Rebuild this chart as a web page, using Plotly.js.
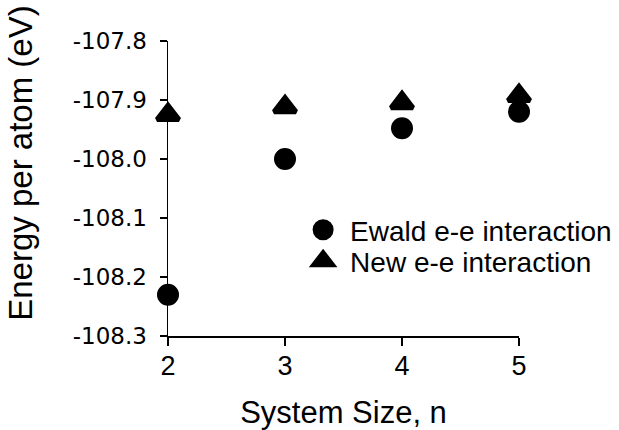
<!DOCTYPE html>
<html>
<head>
<meta charset="utf-8">
<script src="https://cdn.plot.ly/plotly-3.0.1.min.js"></script>
<style>
  html, body { margin: 0; padding: 0; background: #fff; }
  #chart { width: 619px; height: 430px; }
</style>
</head>
<body>
<div id="chart"></div>
<script>
// System size n and energy per atom (eV) for the two e-e interaction schemes
const systemSize = [2, 3, 4, 5];
const ewaldEnergy = [-108.23, -108.00, -107.948, -107.92];
const newEnergy = [-107.925, -107.912, -107.905, -107.893];

const seriesNames = ['Ewald e-e interaction', 'New e-e interaction'];
const xTicks = [2, 3, 4, 5];
const yTicks = [-108.3, -108.2, -108.1, -108.0, -107.9, -107.8];

const FONT = 'Liberation Sans, Arial, Helvetica, sans-serif';

const traces = [
  {
    x: systemSize, y: ewaldEnergy, name: seriesNames[0],
    type: 'scatter', mode: 'markers', cliponaxis: false,
    legend: 'legend',
    marker: { symbol: 'circle', size: 17, color: '#000', line: { color: '#000', width: 5 } }
  },
  {
    x: systemSize, y: newEnergy, name: seriesNames[1],
    type: 'scatter', mode: 'markers', cliponaxis: false,
    legend: 'legend2',
    marker: { symbol: 'triangle-up', size: 19, color: '#000', line: { color: '#000', width: 5 } }
  }
];

const legendStyle = {
  xanchor: 'left', yanchor: 'middle',
  bgcolor: 'rgba(0,0,0,0)', borderwidth: 0,
  itemwidth: 44,
  font: { family: FONT, size: 28, color: '#000' }
};

const layout = {
  width: 619, height: 430,
  margin: { l: 168, r: 100, t: 41, b: 94, pad: 0, autoexpand: false },
  paper_bgcolor: '#fff', plot_bgcolor: '#fff',
  font: { family: FONT, color: '#000' },
  xaxis: {
    range: [2, 5], tickvals: xTicks, ticktext: xTicks.map(String),
    showgrid: false, zeroline: false,
    showline: true, linecolor: '#000', linewidth: 1.5,
    ticks: 'outside', ticklen: 8, tickwidth: 1.5, tickcolor: '#000',
    ticklabelstandoff: -3,
    tickfont: { family: FONT, size: 27, color: '#000' },
    title: { text: 'System Size, n', font: { family: FONT, size: 31, color: '#000' }, standoff: 22 },
    automargin: false, fixedrange: true
  },
  yaxis: {
    range: [-108.3, -107.8], tickvals: yTicks, ticktext: yTicks.map(v => v.toFixed(1)),
    showgrid: false, zeroline: false,
    showline: true, linecolor: '#000', linewidth: 1.5,
    ticks: 'outside', ticklen: 7, tickwidth: 1.5, tickcolor: '#000',
    ticklabelstandoff: 8,
    tickfont: { family: 'DejaVu Sans, sans-serif', size: 23, color: '#000' },
    automargin: false, fixedrange: true
  },
  annotations: [{
    text: 'Energy per atom (eV)', textangle: -90,
    xref: 'paper', yref: 'paper', x: -0.419, y: 0.587,
    xanchor: 'center', yanchor: 'middle', showarrow: false,
    font: { family: FONT, size: 33, color: '#000' }
  }],
  showlegend: true,
  legend: Object.assign({ x: 0.365, y: 0.359 }, legendStyle),
  legend2: Object.assign({ x: 0.365, y: 0.254 }, legendStyle)
};

Plotly.newPlot('chart', traces, layout, { staticPlot: true, displayModeBar: false });
</script>
</body>
</html>
